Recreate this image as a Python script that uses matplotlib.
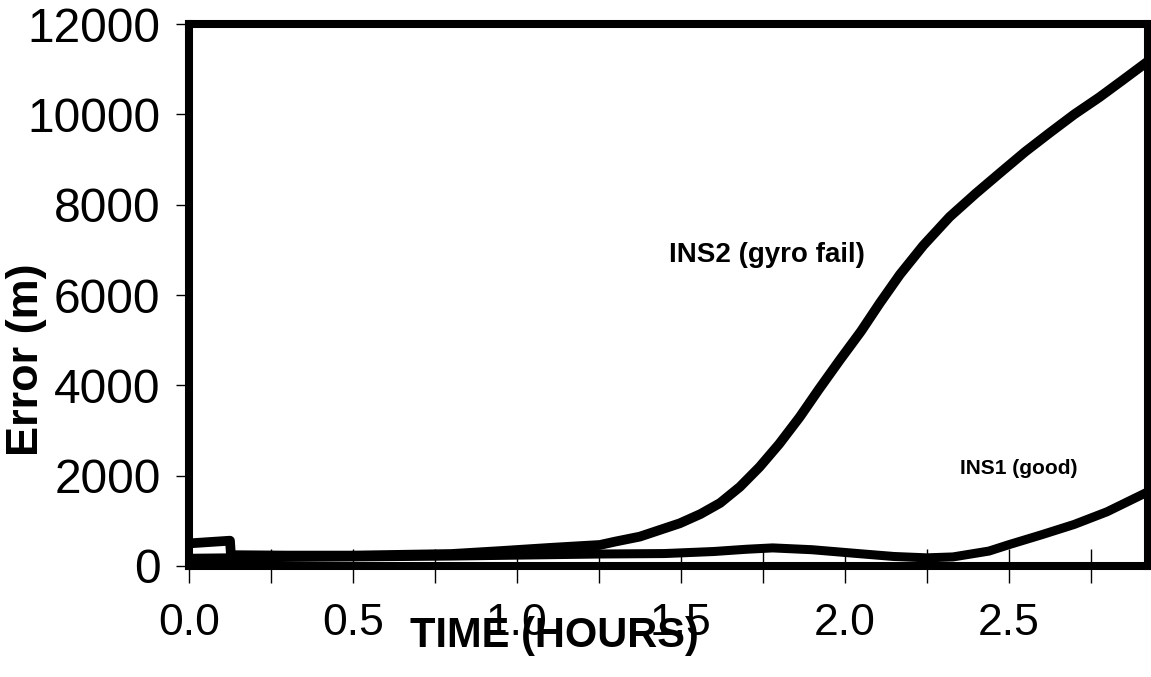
import matplotlib
matplotlib.use("Agg")
import matplotlib.pyplot as plt

# INS2 (gyro fail) error, metres, vs time in hours
t_ins2 = [0.0, 0.125, 0.128, 0.30, 0.50, 0.80, 0.95, 1.10, 1.253, 1.30, 1.375,
          1.497, 1.56, 1.62, 1.68, 1.74, 1.80, 1.863, 1.92, 1.985, 2.05, 2.107,
          2.168, 2.24, 2.32, 2.40, 2.473, 2.55, 2.625, 2.70, 2.777, 2.85, 2.924]
e_ins2 = [500, 560, 240, 230, 230, 265, 330, 400, 465, 540, 650,
          945, 1150, 1395, 1750, 2190, 2700, 3300, 3900, 4560, 5200, 5820,
          6450, 7100, 7730, 8250, 8700, 9170, 9590, 10000, 10380, 10770, 11170]

# INS1 (good) error
t_ins1 = [0.0, 0.13, 0.50, 0.80, 1.00, 1.25, 1.45, 1.60, 1.70, 1.78, 1.90,
          2.04, 2.15, 2.25, 2.33, 2.44, 2.50, 2.60, 2.70, 2.80, 2.924]
e_ins1 = [170, 180, 200, 220, 240, 265, 275, 320, 370, 400, 360,
          275, 210, 180, 200, 330, 470, 690, 920, 1200, 1640]

x_ticks = [0.0, 0.25, 0.5, 0.75, 1.0, 1.25, 1.5, 1.75, 2.0, 2.25, 2.5, 2.75]
x_labels = ['0.0', '', '0.5', '', '1.0', '', '1.5', '', '2.0', '', '2.5', '']
y_ticks = [0, 2000, 4000, 6000, 8000, 10000, 12000]
y_labels = ['0', '2000', '4000', '6000', '8000', '10000', '12000']

plt.rcParams['font.family'] = ['Liberation Sans', 'DejaVu Sans']

fig = plt.figure(figsize=(11.51, 6.77), dpi=100)
ax = fig.add_axes([0.1642, 0.1640, 0.8332, 0.8005])

ax.plot(t_ins2, e_ins2, color='black', lw=7, solid_joinstyle='round',
        solid_capstyle='butt')
ax.plot(t_ins1, e_ins1, color='black', lw=6.5, solid_joinstyle='round',
        solid_capstyle='butt')

ax.set_xlim(0, 2.925)
ax.set_ylim(0, 12000)
for s in ax.spines.values():
    s.set_linewidth(5.8)

ax.set_xticks(x_ticks)
ax.set_xticklabels(x_labels)
ax.set_yticks(y_ticks)
ax.set_yticklabels(y_labels)
ax.tick_params(axis='x', direction='inout', length=24, width=1, labelsize=32, pad=15)
ax.tick_params(axis='y', direction='out', length=9.5, width=1, labelsize=34.5, pad=11)

ax.set_xlabel('TIME (HOURS)', fontsize=30, fontweight='bold')
ax.xaxis.set_label_coords(0.381, -0.13)
ax.xaxis.label.set_va('center')
ax.set_ylabel('Error (m)', fontsize=32.5, fontweight='bold')
ax.yaxis.set_label_coords(-0.169, 0.38)
ax.yaxis.label.set_va('center')

ax.text(1.762, 6885, 'INS2 (gyro fail)', fontsize=20, fontweight='bold',
        ha='center', va='center')
ax.text(2.53, 2150, 'INS1 (good)', fontsize=15, fontweight='bold',
        ha='center', va='center')

fig.savefig('out.png', dpi=100)
